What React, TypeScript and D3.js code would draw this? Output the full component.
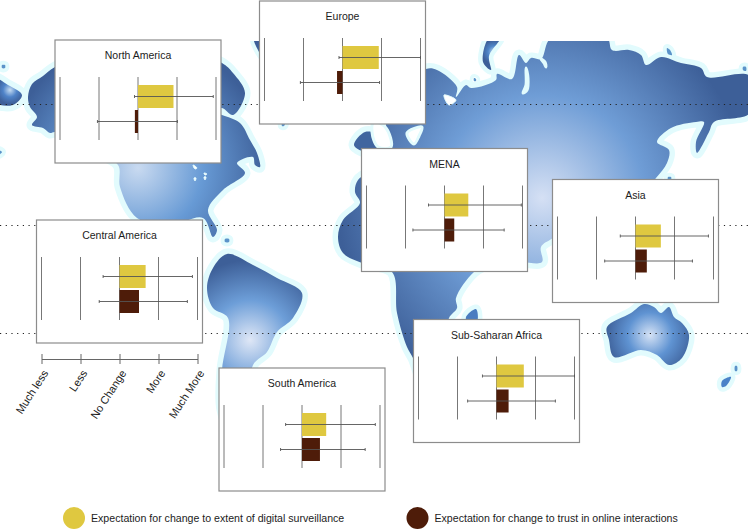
import React, { useEffect, useRef } from 'react';
import * as d3 from 'd3';

// chart data (-2 = much less ... 2 = much more)
const regions = ['North America', 'Europe', 'MENA', 'Asia', 'Central America', 'South America', 'Sub-Saharan Africa'];
const surveillanceMean = [0.91, 0.93, 0.61, 0.65, 0.67, 0.62, 0.7];
const surveillanceLow = [-0.09, -0.09, -0.41, -0.39, -0.42, -0.42, -0.36];
const surveillanceHigh = [1.93, 2.0, 1.97, 1.87, 1.87, 1.88, 2.0];
const trustMean = [-0.08, -0.14, 0.25, 0.29, 0.5, 0.46, 0.31];
const trustLow = [-1.04, -1.08, -0.81, -0.79, -0.52, -0.55, -0.74];
const trustHigh = [1.01, 0.95, 1.53, 1.46, 1.74, 1.62, 1.51];
const tickLabels = ['Much less', 'Less', 'No Change', 'More', 'Much More'];
const tickValues = [-2, -1, 0, 1, 2];
const legendLabels = ['Expectation for change to extent of digital surveillance', 'Expectation for change to trust in online interactions'];

// panel top-left corners
const panelX = [55, 259.5, 361.5, 552.5, 36.5, 219, 413.5];
const panelY = [40, 1, 148.5, 179.5, 220, 368, 319.5];

// map outlines, traced in page pixels
type Pt = [number, number];
const northAmerica: Pt[] = [[28, 97], [32, 84], [43, 76], [55, 67], [100, 50], [180, 50], [222, 63], [233, 73], [245, 93], [233, 115], [222, 108], [212, 112], [222, 115], [240, 123], [250, 140], [257, 153], [260, 167], [255, 165], [253, 157], [237, 163], [245, 173], [223, 190], [208, 210], [217, 230], [213, 237], [203, 218], [170, 225], [137, 218], [120, 187], [118, 165], [90, 150], [55, 132], [50, 133], [43, 128], [32, 125], [37, 117], [30, 107]];
const southAmerica: Pt[] = [[207, 288], [213, 268], [227, 254], [253, 265], [277, 278], [302, 293], [293, 318], [277, 332], [267, 352], [253, 365], [250, 400], [235, 440], [222, 410], [222, 370], [228, 318], [213, 308]];
const eurasiaAfrica: Pt[] = [[400, 90], [426, 69], [437, 70], [457, 87], [456, 97], [466, 85], [471, 88], [496, 80], [497, 74], [512, 79], [519, 55], [526, 63], [531, 58], [541, 59], [551, 38], [607, 38], [612, 50], [629, 50], [641, 55], [646, 65], [661, 57], [681, 63], [701, 68], [707, 77], [750, 76], [750, 113], [714, 122], [709, 132], [697, 153], [696, 142], [704, 122], [696, 122], [671, 128], [657, 142], [669, 150], [667, 163], [656, 178], [640, 195], [600, 210], [553, 238], [541, 247], [542, 262], [520, 262], [490, 264], [474, 272], [456, 298], [457, 308], [449, 318], [440, 360], [425, 385], [413, 358], [407, 347], [397, 313], [392, 272], [362, 263], [343, 253], [338, 237], [343, 220], [360, 203], [355, 192], [358, 180], [380, 165], [391, 148], [386, 125], [385, 105]];
const iberia: Pt[] = [[365, 132], [354, 145], [362, 151], [375, 152], [378, 135]];
const australia: Pt[] = [[607, 327], [631, 313], [644, 304], [654, 307], [661, 313], [669, 307], [674, 317], [682, 323], [689, 335], [682, 358], [669, 365], [657, 355], [641, 350], [614, 357], [609, 340]];
const chukotka: Pt[] = [[-6, 78], [8, 85], [22, 95], [13, 105], [-6, 102]];
const novayaZemlya: Pt[] = [[489, 38], [500, 38], [489, 56], [491, 70], [483, 62]];
const greenlandTip: Pt[] = [[254, 38], [264, 38], [264, 58], [259, 52]];
const newZealandSouth: Pt[] = [[722, 381], [731, 377], [726, 386], [722, 387]];
const madagascar: Pt[] = [[466, 317], [476, 309], [477, 322], [468, 324]];
const arcticIsles: Pt[][] = [
  [[667, 48], [670, 50], [672, 55], [668, 54]],
  [[743, 67], [746, 67], [746, 71], [743, 70]],
  [[474, 78], [476, 79], [476, 81], [474, 81]],
  [[2, 65], [5, 65], [5, 68], [2, 68]],
  [[-2, 150], [2, 152], [-2, 155]],
  [[225, 239], [229, 239], [229, 242], [225, 242]],
  [[735, 366], [737, 366], [737, 371], [735, 371]],
  [[668, 177], [671, 177], [671, 180], [668, 180]],
  [[282, 123], [285, 123], [284, 126], [282, 126]]
];
const inlandWater: Pt[][] = [
  [[374, 122], [386, 128], [391, 147], [378, 147], [372, 132]],
  [[407, 133], [422, 127], [419, 136], [414, 144]],
  [[444, 95], [456, 100], [449, 105]],
  [[526, 68], [528, 78], [527, 90], [523, 93], [526, 85]],
  [[541, 59], [545, 62], [546, 67], [544, 63]],
  [[193, 165], [197, 168], [195, 169]],
  [[204, 173], [207, 174], [205, 175]],
  [[194, 178], [196, 178], [195, 181]],
  [[204, 177], [206, 177], [205, 180]]
];

const BLUE_DARK = '#3d5f98';
const HALO = '#e2fbfd';
const YELLOW = '#dfc840';
const BROWN = '#4e1c09';
const FONT = '"Liberation Sans", Arial, sans-serif';

const App = () => {
  const svgRef = useRef<SVGSVGElement>(null);

  useEffect(() => {
    const svg = d3.select(svgRef.current);
    svg.selectAll('*').remove();

    const defs = svg.append('defs');
    defs.append('clipPath').attr('id', 'map-clip')
      .append('rect').attr('x', 0).attr('y', 41).attr('width', 748).attr('height', 489);

    const addGradient = (id: string, cx: number, cy: number, r: number, inner: string, mid: string) => {
      const g = defs.append('radialGradient').attr('id', id)
        .attr('gradientUnits', 'userSpaceOnUse')
        .attr('cx', cx).attr('cy', cy).attr('r', r);
      g.append('stop').attr('offset', '0%').attr('stop-color', inner);
      g.append('stop').attr('offset', '50%').attr('stop-color', mid);
      g.append('stop').attr('offset', '100%').attr('stop-color', BLUE_DARK);
    };
    addGradient('grad-asia', 542, 198, 205, '#d5e0f4', '#6f9dd6');
    addGradient('grad-na', 138, 168, 130, '#c9daf0', '#679ad5');
    addGradient('grad-sa', 250, 340, 80, '#dfe7f6', '#6d9ed8');
    addGradient('grad-au', 650, 335, 45, '#d5e2f5', '#5f93d2');
    addGradient('grad-small', 10, 90, 14, '#c5dcf2', '#4f83c8');
    addGradient('grad-nz', 494, 52, 12, '#c9dff3', '#4f86c8');

    const outline = d3.line().curve(d3.curveCatmullRomClosed.alpha(0.5));
    const map = svg.append('g').attr('clip-path', 'url(#map-clip)');

    const land = (pts: Pt[], fill: string, halo = 11) => {
      map.append('path').attr('d', outline(pts))
        .attr('fill', HALO).attr('stroke', HALO)
        .attr('stroke-width', halo).attr('stroke-linejoin', 'round');
      return () => map.append('path').attr('d', outline(pts)).attr('fill', fill);
    };

    // halos go down first so they never sit on top of a neighbour's land
    const drawLand = [
      land(northAmerica, 'url(#grad-na)'),
      land(southAmerica, 'url(#grad-sa)'),
      land(eurasiaAfrica, 'url(#grad-asia)'),
      land(iberia, '#40659f'),
      land(australia, 'url(#grad-au)'),
      land(chukotka, 'url(#grad-small)'),
      land(novayaZemlya, 'url(#grad-nz)', 9),
      land(greenlandTip, '#3d5f98', 8),
      land(newZealandSouth, '#4a82c8', 9),
      land(madagascar, '#4a7cc0', 9),
      ...arcticIsles.map(p => land(p, '#5b93c9', 8))
    ];
    drawLand.forEach(draw => draw());

    inlandWater.forEach(pts => {
      map.append('path').attr('d', outline(pts))
        .attr('fill', '#fff').attr('stroke', HALO)
        .attr('stroke-width', pts.length > 3 ? 3 : 1).attr('stroke-linejoin', 'round');
    });

    // latitude lines
    [104.5, 225.5, 333.5].forEach(y => {
      svg.append('line')
        .attr('x1', 0).attr('x2', 748).attr('y1', y).attr('y2', y)
        .attr('stroke', '#222').attr('stroke-width', 1)
        .attr('stroke-dasharray', '1.2 4.5');
    });

    // one small chart per region
    regions.forEach((region, i) => {
      const panel = svg.append('g').attr('transform', `translate(${panelX[i]}, ${panelY[i]})`);
      const x = d3.scaleLinear().domain([-2, 2]).range([5, 161]);
      const rowY = [56.5, 81.5];

      panel.append('rect')
        .attr('width', 166).attr('height', 123)
        .attr('fill', '#fff').attr('stroke', '#8c8c8c').attr('stroke-width', 1.2);

      panel.append('text')
        .attr('x', 83).attr('y', 19)
        .attr('text-anchor', 'middle')
        .style('font-family', FONT).style('font-size', '10.5px').attr('fill', '#1c1c1c')
        .text(region);

      panel.selectAll('.grid').data(tickValues).enter().append('line')
        .attr('x1', d => x(d)).attr('x2', d => x(d))
        .attr('y1', 37).attr('y2', 100)
        .attr('stroke', '#777').attr('stroke-width', 1);

      const means = [surveillanceMean[i], trustMean[i]];
      const lows = [surveillanceLow[i], trustLow[i]];
      const highs = [surveillanceHigh[i], trustHigh[i]];
      [YELLOW, BROWN].forEach((color, s) => {
        panel.append('rect')
          .attr('x', Math.min(x(0), x(means[s])))
          .attr('y', rowY[s] - 11.5)
          .attr('width', Math.abs(x(means[s]) - x(0)))
          .attr('height', 23)
          .attr('fill', color);
      });
      [0, 1].forEach(s => {
        panel.append('line')
          .attr('x1', x(lows[s])).attr('x2', x(highs[s]))
          .attr('y1', rowY[s]).attr('y2', rowY[s])
          .attr('stroke', '#555').attr('stroke-width', 0.9);
        [lows[s], highs[s]].forEach(v => {
          panel.append('line')
            .attr('x1', x(v)).attr('x2', x(v))
            .attr('y1', rowY[s] - 1.5).attr('y2', rowY[s] + 1.5)
            .attr('stroke', '#555').attr('stroke-width', 0.9);
        });
      });
    });

    // shared scale key under Central America
    const keyScale = d3.scaleLinear().domain([-2, 2]).range([41.5, 197.5]);
    const key = svg.append('g')
      .attr('transform', 'translate(0, 359)')
      .call(
        d3.axisBottom(keyScale)
          .tickValues(tickValues)
          .tickFormat((_, i) => tickLabels[i])
          .tickSize(5)
          .tickSizeOuter(0)
      );
    key.select('.domain').attr('stroke', '#666');
    key.selectAll('.tick line').attr('y1', -5).attr('stroke', '#666');
    key.selectAll('.tick text')
      .attr('transform', 'translate(3.5, 12) rotate(-57)')
      .attr('x', 0).attr('y', 0).attr('dy', '0.35em')
      .style('text-anchor', 'end')
      .style('font-family', FONT).style('font-size', '11px').attr('fill', '#1c1c1c');

    // legend
    const legend = svg.selectAll('.legend').data(legendLabels).enter().append('g')
      .attr('transform', (_, i) => `translate(${[74, 417.5][i]}, 518)`);
    legend.append('circle').attr('r', 11).attr('fill', (_, i) => [YELLOW, BROWN][i]);
    legend.append('text')
      .attr('x', 17).attr('y', 4)
      .style('font-family', FONT).style('font-size', '10.6px').attr('fill', '#1c1c1c')
      .text(d => d);
  }, []);

  return <svg ref={svgRef} width={748} height={530} style={{ position: 'absolute', left: 0, top: 0 }} />;
};

export default App;
